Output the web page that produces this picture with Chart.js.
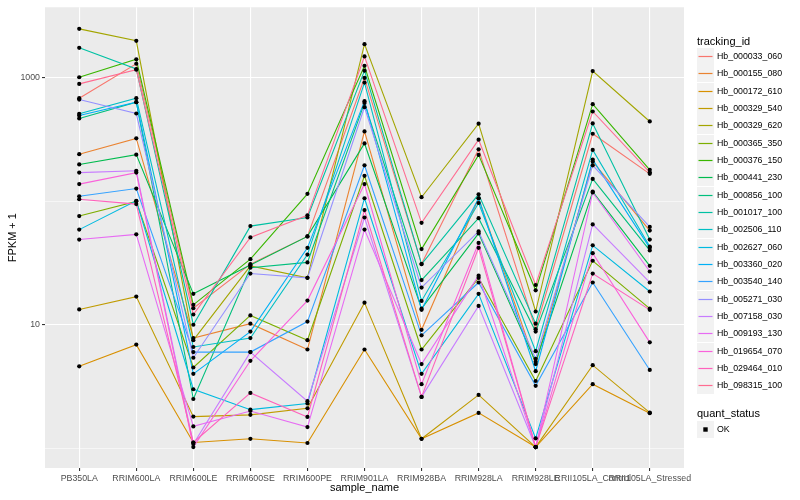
<!DOCTYPE html>
<html>
<head>
<meta charset="utf-8">
<title>FPKM by sample</title>
<script src="https://cdn.jsdelivr.net/npm/chart.js@4.4.0/dist/chart.umd.min.js"></script>
<style>
    html, body { margin: 0; padding: 0; background: #fff; }
    #wrap { position: relative; width: 800px; height: 500px; font-family: "Liberation Sans", Arial, sans-serif; }
    #chart { position: absolute; left: 0; top: 0; }
    .lg-title { position: absolute; left: 697px; font-size: 11px; line-height: 14px; color: #000; }
    .lg-key { position: absolute; left: 697px; width: 17px; height: 17px; background: #f2f2f2; }
    .lg-key svg { display: block; }
    .lg-text { position: absolute; left: 717px; font-size: 8.8px; line-height: 17px; color: #000; white-space: nowrap; }
</style>
</head>
<body>
<div id="wrap">
    <canvas id="chart" width="800" height="500"></canvas>
    <div id="legend"></div>
</div>
<script>
// samples on the x axis
const sampleNames = ['PB350LA', 'RRIM600LA', 'RRIM600LE', 'RRIM600SE', 'RRIM600PE', 'RRIM901LA',
    'RRIM928BA', 'RRIM928LA', 'RRIM928LE', 'RRII105LA_Control', 'RRII105LA_Stressed'];

// FPKM + 1, one array per tracking_id
const hb_000033_060 = [686, 1304, 13.6, 31, 52, 1000, 31, 264, 9.2, 353, 167];
const hb_000155_080 = [241, 324, 7.8, 10.2, 6.3, 369, 9.1, 106, 4.8, 210, 58];
const hb_000172_610 = [4.6, 6.9, 1.11, 1.19, 1.10, 6.3, 1.19, 1.93, 1.02, 3.3, 1.92];
const hb_000329_540 = [13.3, 16.9, 1.8, 1.86, 2.1, 15.1, 1.19, 2.7, 1.02, 4.7, 1.94];
const hb_000329_620 = [2500, 2000, 7.5, 30, 24, 1880, 108, 426, 12.8, 1138, 444];
const hb_000365_350 = [76, 100, 4.5, 11.9, 7.5, 161, 6.3, 24, 3.5, 33, 13.5];
const hb_000376_150 = [1013, 1416, 14.5, 34, 115, 1256, 41, 238, 19, 613, 180];
const hb_000441_230 = [199, 239, 17.8, 30.5, 52, 295, 13.5, 55, 5.0, 120, 30];
const hb_000856_100 = [470, 637, 2.5, 29, 32, 628, 23, 73, 8.8, 152, 40];
const hb_001017_100 = [1755, 1182, 10, 63, 74, 1146, 31, 114, 10.2, 428, 49];
const hb_002506_110 = [513, 686, 6.6, 7.8, 37, 917, 15.6, 97, 6.1, 261, 43];
const hb_002627_060 = [59, 101, 3.0, 2.05, 2.3, 106, 4.0, 17.8, 1.2, 44, 18.6];
const hb_003360_020 = [497, 637, 4.0, 8.8, 42, 649, 13.2, 106, 4.2, 218, 42];
const hb_003540_140 = [110, 127, 6.0, 6.0, 10.6, 196, 8.2, 22, 3.2, 22, 4.3];
const hb_005271_030 = [668, 515, 5.4, 26, 24, 580, 20, 57, 5.3, 196, 62];
const hb_007158_030 = [171, 177, 1.08, 6.0, 2.4, 74, 2.6, 14.2, 1.02, 65, 22];
const hb_009193_130 = [49, 54, 1.5, 2.0, 1.48, 59, 4.8, 25, 1.02, 118, 27];
const hb_019654_070 = [138, 171, 1.02, 5.1, 15.7, 138, 3.3, 46, 1.02, 38, 7.2];
const hb_029464_010 = [104, 95, 1.11, 2.8, 1.79, 85, 2.6, 42, 1.02, 26, 13.2];
const hb_098315_100 = [895, 1167, 12.1, 51, 77, 1496, 67, 316, 21, 535, 172];

const trackingIds = ['Hb_000033_060', 'Hb_000155_080', 'Hb_000172_610', 'Hb_000329_540', 'Hb_000329_620',
    'Hb_000365_350', 'Hb_000376_150', 'Hb_000441_230', 'Hb_000856_100', 'Hb_001017_100',
    'Hb_002506_110', 'Hb_002627_060', 'Hb_003360_020', 'Hb_003540_140', 'Hb_005271_030',
    'Hb_007158_030', 'Hb_009193_130', 'Hb_019654_070', 'Hb_029464_010', 'Hb_098315_100'];
const seriesValues = [hb_000033_060, hb_000155_080, hb_000172_610, hb_000329_540, hb_000329_620,
    hb_000365_350, hb_000376_150, hb_000441_230, hb_000856_100, hb_001017_100,
    hb_002506_110, hb_002627_060, hb_003360_020, hb_003540_140, hb_005271_030,
    hb_007158_030, hb_009193_130, hb_019654_070, hb_029464_010, hb_098315_100];

// ggplot2 default hue palette for 20 levels
const seriesColors = ['#F8766D', '#EA8331', '#D89000', '#C09B00', '#A3A500', '#7CAE00', '#39B600',
    '#00BB4E', '#00BF7D', '#00C1A3', '#00BFC4', '#00BAE0', '#00B0F6', '#35A2FF', '#9590FF',
    '#C77CFF', '#E76BF3', '#FA62DB', '#FF62BC', '#FF6C91'];

const yTicks = [1, 10, 100, 1000];
const yLabelled = [10, 1000];
const quantStatus = ['OK'];

const FONT = '"Liberation Sans", Arial, sans-serif';

// line datasets, first level drawn first (like ggplot)
const datasets = trackingIds.map((id, i) => ({
    label: id,
    data: seriesValues[i].map((v, j) => ({ x: j, y: v })),
    borderColor: seriesColors[i],
    backgroundColor: seriesColors[i],
    borderWidth: 1.1,
    pointRadius: 0,
    tension: 0,
    order: trackingIds.length - i
}));

// all points in black on top
const allPoints = [];
seriesValues.forEach(vals => vals.forEach((v, j) => allPoints.push({ x: j, y: v })));
datasets.push({
    label: quantStatus[0],
    data: allPoints,
    showLine: false,
    pointRadius: 2.1,
    pointBackgroundColor: '#000',
    pointBorderWidth: 0,
    order: 0
});

const panelBackground = {
    id: 'panelBackground',
    beforeDraw(chart) {
        const { ctx, chartArea } = chart;
        ctx.save();
        ctx.fillStyle = '#EBEBEB';
        ctx.fillRect(chartArea.left, chartArea.top, chartArea.right - chartArea.left, chartArea.bottom - chartArea.top);
        ctx.restore();
    }
};

const axisTitles = {
    id: 'axisTitles',
    afterDraw(chart) {
        const { ctx, chartArea } = chart;
        ctx.save();
        ctx.fillStyle = '#000';
        ctx.font = '11px ' + FONT;
        ctx.textAlign = 'center';
        ctx.textBaseline = 'middle';
        ctx.fillText('sample_name', (chartArea.left + chartArea.right) / 2, 488);
        ctx.translate(13, (chartArea.top + chartArea.bottom) / 2);
        ctx.rotate(-Math.PI / 2);
        ctx.fillText('FPKM + 1', 0, 0);
        ctx.restore();
    }
};

new Chart(document.getElementById('chart').getContext('2d'), {
    type: 'line',
    data: { datasets: datasets },
    options: {
        responsive: false,
        animation: false,
        devicePixelRatio: 1,
        layout: { padding: { left: 0, right: 116, top: 5, bottom: 0 } },
        plugins: { legend: { display: false }, tooltip: { enabled: false } },
        scales: {
            x: {
                type: 'linear',
                min: -0.6,
                max: sampleNames.length - 1 + 0.6,
                afterBuildTicks: (axis) => { axis.ticks = sampleNames.map((s, i) => ({ value: i })); },
                afterFit: (axis) => { axis.height = 32; },
                border: { display: false },
                grid: { color: '#FFFFFF', lineWidth: 1.1, tickColor: '#333333', tickLength: 3 },
                ticks: {
                    autoSkip: false, maxRotation: 0, minRotation: 0, padding: 2,
                    color: '#4D4D4D', font: { family: FONT, size: 8.8 },
                    callback: (value) => sampleNames[value]
                }
            },
            y: {
                type: 'logarithmic',
                min: 0.69,
                max: 3740,
                afterBuildTicks: (axis) => { axis.ticks = yTicks.map(v => ({ value: v })); },
                afterFit: (axis) => { axis.width = 45; },
                border: { display: false },
                grid: {
                    color: '#FFFFFF',
                    lineWidth: (c) => yLabelled.includes(c.tick && c.tick.value) ? 1.1 : 0.55,
                    tickColor: (c) => yLabelled.includes(c.tick && c.tick.value) ? '#333333' : 'rgba(0,0,0,0)',
                    tickLength: 3
                },
                ticks: {
                    padding: 2, color: '#4D4D4D', font: { family: FONT, size: 8.8 },
                    callback: (value) => yLabelled.includes(value) ? String(value) : ''
                }
            }
        }
    },
    plugins: [panelBackground, axisTitles]
});

// legend built from the same arrays
const legend = document.getElementById('legend');
const rowH = 17.33;
let html = '<div class="lg-title" style="top:34px">tracking_id</div>';
trackingIds.forEach((id, i) => {
    const top = Math.round(48 + i * rowH);
    html += `<div class="lg-key" style="top:${top}px"><svg width="17" height="17">` +
        `<line x1="1.5" y1="8.5" x2="15.5" y2="8.5" stroke="${seriesColors[i]}" stroke-width="1.2"/></svg></div>`;
    html += `<div class="lg-text" style="top:${top}px">${id}</div>`;
});
html += '<div class="lg-title" style="top:406px">quant_status</div>';
quantStatus.forEach((q, i) => {
    const top = Math.round(420.5 + i * rowH);
    html += `<div class="lg-key" style="top:${top}px"><svg width="17" height="17">` +
        `<rect x="6.3" y="6.3" width="4.4" height="4.4" fill="#000"/></svg></div>`;
    html += `<div class="lg-text" style="top:${top}px">${q}</div>`;
});
legend.innerHTML = html;
</script>
</body>
</html>
